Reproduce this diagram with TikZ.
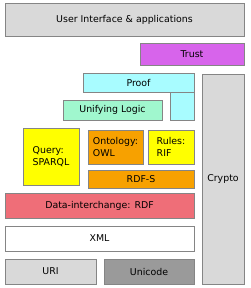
\documentclass[tikz,border=0pt]{standalone}
\usepackage{fontspec}
\setmainfont{DejaVu Sans}
\usepackage{tikz}
\usetikzlibrary{positioning}
\definecolor{wsborda}{HTML}{858585}
\definecolor{wscinza}{HTML}{D9D9D9}
\definecolor{wscinzaescuro}{HTML}{9A9A9A}
\definecolor{wsroxo}{HTML}{D764EB}
\definecolor{wsciano}{HTML}{A8FCFF}
\definecolor{wsmenta}{HTML}{A0F7CE}
\definecolor{wsamarelo}{HTML}{FFFF00}
\definecolor{wslaranja}{HTML}{F7A100}
\definecolor{wsvermelho}{HTML}{EF6E78}
\tikzset{
  wscamada/.style={draw=wsborda, line width=0.8pt, inner sep=0pt, align=center,
                   font=\fontsize{9.4}{12.5}\selectfont},
  wsfaixa/.style={wscamada, minimum height=25pt},
}

\begin{document}
\begin{tikzpicture}[x=1pt, y=-1pt,
        bloco/.style={wscamada, align=left}
    ]
        \useasboundingbox (0,0) rectangle (250,288);
        % topo
        \node[wscamada, fill=wscinza, minimum width=239pt, minimum height=33pt] (ui) at (124.5,19.5) {User Interface \& applications};
        \node[wscamada, fill=wsroxo, minimum width=104pt, minimum height=22pt] (trust) at (192,54) {Trust};
        \node[wscamada, fill=wsciano, minimum width=111pt, minimum height=19pt] (proof) at (138.5,82.5) {Proof};
        \node[wscamada, fill=wsciano, minimum width=24pt, minimum height=28pt] (proofb) at (182,106) {};
        \node[wscamada, fill=wsmenta, minimum width=99pt, minimum height=20pt] (logic) at (112.5,110) {Unifying Logic};
        % meio
        \node[bloco, fill=wsamarelo, minimum width=56pt, minimum height=57pt] (query) at (51,156.5) {Query:\\SPARQL};
        \node[bloco, fill=wslaranja, minimum width=55pt, minimum height=34pt] (owl) at (115.5,147) {Ontology:\\OWL};
        \node[bloco, fill=wsamarelo, minimum width=46pt, minimum height=34pt] (rif) at (171,147) {Rules:\\RIF};
        \node[wscamada, fill=wslaranja, minimum width=106pt, minimum height=18pt] (rdfs) at (141,179) {RDF-S};
        % base
        \node[wsfaixa, fill=wsvermelho, minimum width=189pt] (rdf) at (99.5,205.5) {Data-interchange: RDF};
        \node[wsfaixa, fill=white, minimum width=189pt] (xml) at (99.5,238.5) {XML};
        \node[wsfaixa, fill=wscinza, minimum width=91pt] (uri) at (50.5,271.5) {URI};
        \node[wsfaixa, fill=wscinzaescuro, minimum width=90pt] (unicode) at (149,271.5) {Unicode};
        % lateral
        \node[wscamada, fill=wscinza, minimum width=42pt, minimum height=210pt] (crypto) at (223,179) {Crypto};
    \end{tikzpicture}
\end{document}
